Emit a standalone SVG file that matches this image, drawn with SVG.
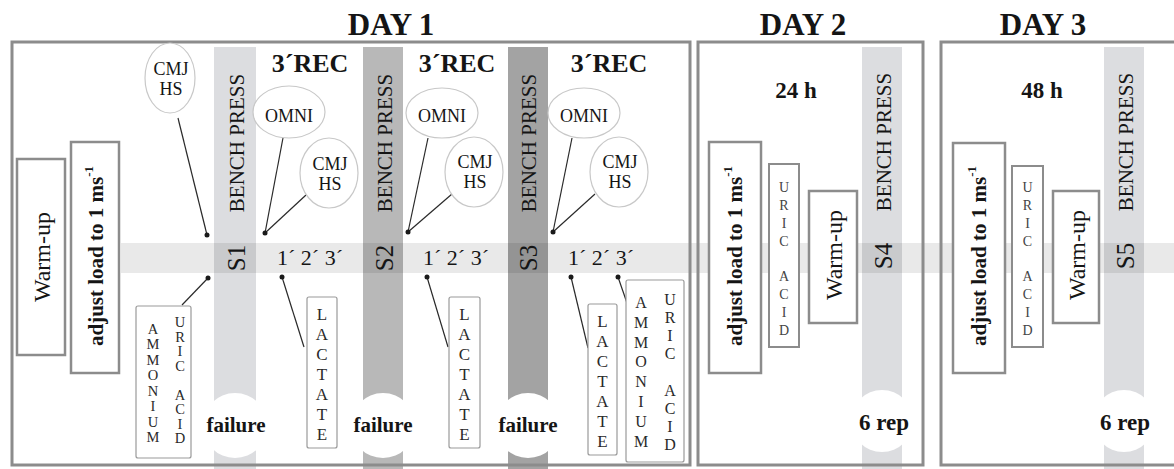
<svg xmlns="http://www.w3.org/2000/svg" width="1174" height="469" viewBox="0 0 1174 469">
<style>
text{font-family:"Liberation Serif","Times New Roman",serif;fill:#151515}
.b{font-weight:bold}
.day{font-size:31px;font-weight:bold;text-anchor:middle}
.rec{font-size:26px;font-weight:bold;text-anchor:middle}
.bp{font-size:21px;text-anchor:middle;dominant-baseline:central}
.s{font-size:25px;text-anchor:middle;dominant-baseline:central}
.ell{fill:#fff;stroke:#c8c8c8;stroke-width:1.2}
.et{font-size:18px;text-anchor:middle}
.frame{fill:none;stroke:#8c8c8c;stroke-width:3}
.box{fill:#fff;stroke:#8c8c8c;stroke-width:2.5}
.sbox{fill:#fff;stroke:#9a9a9a;stroke-width:1.2}
.lt{text-anchor:middle;fill:#2a2a2a}
.con line{stroke:#2a2a2a;stroke-width:1.2}
.con circle{fill:#1a1a1a}
.cut{fill:#fff}
.fail{font-size:21px;font-weight:bold;text-anchor:middle}
.min{font-size:22px;text-anchor:middle}
</style>

<!-- columns -->
<g id="columns">
<rect x="214" y="47" width="42" height="422" fill="#dcdde0"/>
<rect x="363" y="47" width="40" height="422" fill="#b8b8b8"/>
<rect x="508" y="47" width="40" height="422" fill="#a3a3a3"/>
<rect x="862" y="47" width="40" height="422" fill="#dcdde0"/>
<rect x="1104" y="47" width="40" height="422" fill="#dcdde0"/>
</g>
<!-- band -->
<rect id="band" x="121" y="243" width="1053" height="30" fill="#000" fill-opacity="0.085"/>
<!-- white cutouts -->
<g id="cuts">
<circle class="cut" cx="235" cy="425.5" r="32.5"/>
<circle class="cut" cx="383" cy="425.5" r="32.5"/>
<circle class="cut" cx="528" cy="425.5" r="32.5"/>
<circle class="cut" cx="882" cy="421" r="31"/>
<circle class="cut" cx="1124" cy="421" r="31"/>
</g>

<!-- day frames -->
<g id="day1"><rect class="frame" x="12" y="42" width="678" height="423"/><text class="day" x="391" y="35">DAY 1</text></g>
<g id="day2"><rect class="frame" x="698" y="42" width="225" height="423"/><text class="day" x="803" y="35">DAY 2</text></g>
<g id="day3"><rect class="frame" x="941" y="42" width="260" height="423"/><text class="day" x="1043" y="35">DAY 3</text></g>

<!-- column texts -->
<g id="s1"><text class="bp" transform="translate(237,143) rotate(-90)">BENCH PRESS</text><text class="s" transform="translate(236,258) rotate(-90)">S1</text><text class="fail" x="236" y="432">failure</text></g>
<g id="s2"><text class="bp" transform="translate(385,143) rotate(-90)">BENCH PRESS</text><text class="s" transform="translate(384,258) rotate(-90)">S2</text><text class="fail" x="383" y="432">failure</text></g>
<g id="s3"><text class="bp" transform="translate(529,143) rotate(-90)">BENCH PRESS</text><text class="s" transform="translate(528,258) rotate(-90)">S3</text><text class="fail" x="528" y="432">failure</text></g>
<g id="s4"><text class="bp" transform="translate(884,142) rotate(-90)">BENCH PRESS</text><text class="s" transform="translate(883,256) rotate(-90)">S4</text><text class="fail" x="884" y="430" style="font-size:23px">6 rep</text></g>
<g id="s5"><text class="bp" transform="translate(1126,142) rotate(-90)">BENCH PRESS</text><text class="s" transform="translate(1125,256) rotate(-90)">S5</text><text class="fail" x="1125" y="430" style="font-size:23px">6 rep</text></g>

<!-- recovery labels -->
<g id="rec1"><text class="rec" x="310" y="72">3´REC</text><text class="min" x="310" y="265">1´ 2´ 3´</text></g>
<g id="rec2"><text class="rec" x="457" y="72">3´REC</text><text class="min" x="456" y="265">1´ 2´ 3´</text></g>
<g id="rec3"><text class="rec" x="609" y="72">3´REC</text><text class="min" x="601" y="265">1´ 2´ 3´</text></g>
<text class="b" x="796" y="98" font-size="23" text-anchor="middle">24 h</text>
<text class="b" x="1042" y="98" font-size="23" text-anchor="middle">48 h</text>

<!-- connectors -->
<g id="connectors" class="con">
<line x1="178" y1="118" x2="207" y2="235"/><circle cx="207" cy="235" r="2.5"/>
<line x1="283" y1="138" x2="265" y2="233"/><line x1="306" y1="195" x2="265" y2="233"/><circle cx="265" cy="233" r="2.5"/>
<line x1="428" y1="138" x2="408" y2="232"/><line x1="452" y1="194" x2="408" y2="232"/><circle cx="408" cy="232" r="2.5"/>
<line x1="572" y1="138" x2="553" y2="232"/><line x1="595" y1="194" x2="553" y2="232"/><circle cx="553" cy="232" r="2.5"/>
<line x1="182" y1="305" x2="208" y2="278"/><circle cx="208" cy="278" r="2.5"/>
<line x1="282" y1="277" x2="304" y2="347"/><circle cx="282" cy="277" r="2.5"/>
<line x1="427" y1="277" x2="448" y2="347"/><circle cx="427" cy="277" r="2.5"/>
<line x1="571" y1="277" x2="588" y2="348"/><circle cx="571" cy="277" r="2.5"/>
<line x1="618" y1="277" x2="627" y2="303"/><circle cx="618" cy="277" r="2.5"/>
</g>

<!-- ellipses -->
<g id="cmj1"><ellipse class="ell" cx="170" cy="78" rx="25" ry="35"/><text class="et" x="171" y="75">CMJ</text><text class="et" x="171" y="95">HS</text></g>
<g id="omni1"><ellipse class="ell" cx="289" cy="112" rx="36" ry="26"/><text class="et" x="289" y="122">OMNI</text></g>
<g id="cmj2"><ellipse class="ell" cx="329" cy="173" rx="29" ry="35"/><text class="et" x="330" y="170">CMJ</text><text class="et" x="330" y="190">HS</text></g>
<g id="omni2"><ellipse class="ell" cx="442" cy="113" rx="36" ry="25"/><text class="et" x="442" y="122">OMNI</text></g>
<g id="cmj3"><ellipse class="ell" cx="474" cy="172" rx="29" ry="35"/><text class="et" x="475" y="168">CMJ</text><text class="et" x="475" y="188">HS</text></g>
<g id="omni3"><ellipse class="ell" cx="584" cy="113" rx="36" ry="25"/><text class="et" x="584" y="122">OMNI</text></g>
<g id="cmj4"><ellipse class="ell" cx="619" cy="172" rx="29" ry="35"/><text class="et" x="620" y="168">CMJ</text><text class="et" x="620" y="188">HS</text></g>

<!-- day 1 boxes -->
<g id="warmup1"><rect class="box" x="17" y="159" width="48" height="196"/><text transform="translate(42,257) rotate(-90)" font-size="24" text-anchor="middle" dominant-baseline="central">Warm-up</text></g>
<g id="adjust1"><rect class="box" x="71" y="142" width="48" height="231"/><text class="b" transform="translate(96,256) rotate(-90)" font-size="21" text-anchor="middle" dominant-baseline="central">adjust load to 1 ms<tspan font-size="13" dy="-8">-1</tspan></text></g>

<g id="amm1"><rect class="sbox" x="136" y="306" width="55" height="152" rx="2"/>
<text class="lt" font-size="14.5"><tspan x="153" y="334">A</tspan><tspan x="153" y="349.4">M</tspan><tspan x="153" y="364.9">M</tspan><tspan x="153" y="380.3">O</tspan><tspan x="153" y="395.7">N</tspan><tspan x="153" y="411.1">I</tspan><tspan x="153" y="426.6">U</tspan><tspan x="153" y="442">M</tspan></text>
<text class="lt" font-size="14.5"><tspan x="180" y="327">U</tspan><tspan x="180" y="341.5">R</tspan><tspan x="180" y="356">I</tspan><tspan x="180" y="370.5">C</tspan><tspan x="180" y="399.5">A</tspan><tspan x="180" y="414">C</tspan><tspan x="180" y="428.5">I</tspan><tspan x="180" y="443">D</tspan></text></g>

<g id="lac1"><rect class="sbox" x="307" y="297" width="30" height="151" rx="2"/>
<text class="lt" font-size="17"><tspan x="322" y="320">L</tspan><tspan x="322" y="340">A</tspan><tspan x="322" y="360">C</tspan><tspan x="322" y="380">T</tspan><tspan x="322" y="400">A</tspan><tspan x="322" y="420">T</tspan><tspan x="322" y="440">E</tspan></text></g>
<g id="lac2"><rect class="sbox" x="449" y="297" width="31" height="151" rx="2"/>
<text class="lt" font-size="17"><tspan x="464.5" y="320">L</tspan><tspan x="464.5" y="340">A</tspan><tspan x="464.5" y="360">C</tspan><tspan x="464.5" y="380">T</tspan><tspan x="464.5" y="400">A</tspan><tspan x="464.5" y="420">T</tspan><tspan x="464.5" y="440">E</tspan></text></g>
<g id="lac3"><rect class="sbox" x="588" y="304" width="29" height="151" rx="2"/>
<text class="lt" font-size="17"><tspan x="602.5" y="327">L</tspan><tspan x="602.5" y="347">A</tspan><tspan x="602.5" y="367">C</tspan><tspan x="602.5" y="387">T</tspan><tspan x="602.5" y="407">A</tspan><tspan x="602.5" y="427">T</tspan><tspan x="602.5" y="447">E</tspan></text></g>

<g id="amm2"><rect class="sbox" x="626" y="280" width="58" height="182" rx="2"/>
<text class="lt" font-size="16"><tspan x="641" y="308">A</tspan><tspan x="641" y="327.8">M</tspan><tspan x="641" y="347.6">M</tspan><tspan x="641" y="367.4">O</tspan><tspan x="641" y="387.2">N</tspan><tspan x="641" y="407">I</tspan><tspan x="641" y="426.8">U</tspan><tspan x="641" y="446.6">M</tspan></text>
<text class="lt" font-size="16"><tspan x="670" y="305">U</tspan><tspan x="670" y="323.1">R</tspan><tspan x="670" y="341.3">I</tspan><tspan x="670" y="359.4">C</tspan><tspan x="670" y="395.6">A</tspan><tspan x="670" y="413.8">C</tspan><tspan x="670" y="431.9">I</tspan><tspan x="670" y="450">D</tspan></text></g>

<!-- day 2 boxes -->
<g id="adjust2"><rect class="box" x="709" y="142" width="52" height="231"/><text class="b" transform="translate(735,256) rotate(-90)" font-size="21" text-anchor="middle" dominant-baseline="central">adjust load to 1 ms<tspan font-size="13" dy="-8">-1</tspan></text></g>
<g id="uric2"><rect class="box" x="769" y="164" width="30" height="183" style="stroke-width:2"/>
<text class="lt" font-size="14" style="fill:#444"><tspan x="784" y="192">U</tspan><tspan x="784" y="209.9">R</tspan><tspan x="784" y="227.8">I</tspan><tspan x="784" y="245.6">C</tspan><tspan x="784" y="281.4">A</tspan><tspan x="784" y="299.3">C</tspan><tspan x="784" y="317.1">I</tspan><tspan x="784" y="335">D</tspan></text></g>
<g id="warmup2"><rect class="box" x="809" y="191" width="48" height="132"/><text transform="translate(834,255) rotate(-90)" font-size="24" text-anchor="middle" dominant-baseline="central">Warm-up</text></g>

<!-- day 3 boxes -->
<g id="adjust3"><rect class="box" x="953" y="143" width="52" height="230"/><text class="b" transform="translate(979,256) rotate(-90)" font-size="21" text-anchor="middle" dominant-baseline="central">adjust load to 1 ms<tspan font-size="13" dy="-8">-1</tspan></text></g>
<g id="uric3"><rect class="box" x="1012" y="166" width="31" height="181" style="stroke-width:2"/>
<text class="lt" font-size="14" style="fill:#444"><tspan x="1027.5" y="192">U</tspan><tspan x="1027.5" y="209.9">R</tspan><tspan x="1027.5" y="227.8">I</tspan><tspan x="1027.5" y="245.6">C</tspan><tspan x="1027.5" y="281.4">A</tspan><tspan x="1027.5" y="299.3">C</tspan><tspan x="1027.5" y="317.1">I</tspan><tspan x="1027.5" y="335">D</tspan></text></g>
<g id="warmup3"><rect class="box" x="1053" y="191" width="46" height="132"/><text transform="translate(1077,255) rotate(-90)" font-size="24" text-anchor="middle" dominant-baseline="central">Warm-up</text></g>
</svg>
